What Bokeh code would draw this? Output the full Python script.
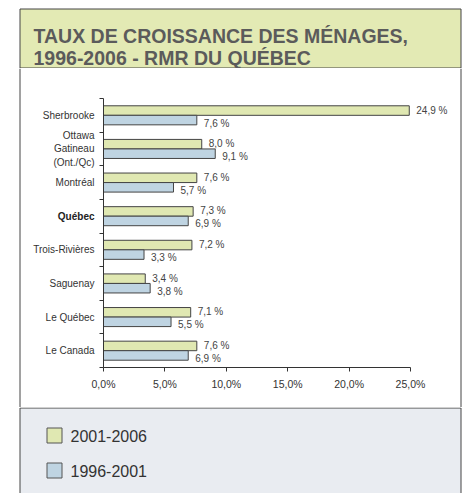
from bokeh.plotting import figure
from bokeh.layouts import column
from bokeh.models import Range1d, FixedTicker, Span, ColumnDataSource
from bokeh.core.properties import value
from bokeh.embed import file_html
from bokeh.resources import INLINE

# ---- data ----
categories = ["Sherbrooke", "Ottawa\nGatineau\n(Ont./Qc)", "Montréal", "Québec",
              "Trois-Rivières", "Saguenay", "Le Québec", "Le Canada"]
highlight = "Québec"
growth_2001_2006 = [24.9, 8.0, 7.6, 7.3, 7.2, 3.4, 7.1, 7.6]
growth_1996_2001 = [7.6, 9.1, 5.7, 6.9, 3.3, 3.8, 5.5, 6.9]
x_ticks = [0, 5, 10, 15, 20, 25]
x_tick_labels = ["0,0%", "5,0%", "10,0%", "15,0%", "20,0%", "25,0%"]
series_names = ["2001-2006", "1996-2001"]
title_lines = ["TAUX DE CROISSANCE DES MÉNAGES,", "1996-2006 - RMR DU QUÉBEC"]

FONT = "Liberation Sans"
GREEN = "#e0e8b2"
BLUE = "#bfd4e2"
BAND = "#e3eab4"
PANEL = "#e9ecf1"
EDGE = "#444444"
W = 463
BOX_L, BOX_R = 19.5, 460.5

def fmt(v):
    return ("%.1f" % v).replace(".", ",") + " %"

def blank(fig):
    fig.axis.visible = False
    fig.grid.visible = False
    fig.outline_line_color = None

# ---- title figure ----
TH = 68
t = figure(width=W, height=TH, x_range=Range1d(0, W), y_range=Range1d(TH, 0),
           toolbar_location=None, output_backend="svg", min_border=0, frame_align=False)
blank(t)
t.quad(left=[BOX_L], right=[BOX_R], top=[8.5], bottom=[67.5],
       fill_color=BAND, line_color=EDGE, line_width=1)
t.text(x=[33, 33], y=[35.5, 57], text=title_lines, text_font=value(FONT),
       text_font_style="bold", text_font_size="19.5px", text_color="#5b5b5b",
       text_baseline="alphabetic", text_align="left")

# ---- chart figure (frame fills the canvas, axes fixed inside) ----
H = 339
n = len(categories)
px_x = 12.28           # pixels per percentage point
x0_px = 103            # canvas x of 0 %
px_y = 33.625          # pixels per category
y0_px = 299            # canvas y of the axis
x_rng = Range1d(-x0_px / px_x, (W - x0_px) / px_x)
y_rng = Range1d(-(H - y0_px) / px_y, y0_px / px_y)

p = figure(width=W, height=H, x_range=x_rng, y_range=y_rng,
           toolbar_location=None, output_backend="svg", min_border=0, frame_align=False)
p.grid.visible = False
p.outline_line_color = None

centers = [n - i - 0.5 for i in range(n)]
off = 0.1415
bh = 0.283
src = ColumnDataSource(dict(
    yg=[c + off for c in centers], yb=[c - off for c in centers],
    g=growth_2001_2006, b=growth_1996_2001,
    gl=[fmt(v) for v in growth_2001_2006], bl=[fmt(v) for v in growth_1996_2001]))
p.hbar(y="yg", left=0, right="g", height=bh, source=src,
       fill_color=GREEN, line_color=EDGE, line_width=1)
p.hbar(y="yb", left=0, right="b", height=bh, source=src,
       fill_color=BLUE, line_color=EDGE, line_width=1)
for xcol, ycol, lcol, yo in (("g", "yg", "gl", -0.5), ("b", "yb", "bl", 3)):
    p.text(x=xcol, y=ycol, text=lcol, source=src, x_offset=7, y_offset=yo,
           text_font=value(FONT), text_font_size="10px", text_color="#444444",
           text_baseline="middle", text_align="left")

# category labels
reg = [(c, lab) for c, lab in zip(centers, categories) if lab != highlight]
hl = [(c, lab) for c, lab in zip(centers, categories) if lab == highlight]
p.text(x=[0] * len(reg), y=[c for c, _ in reg], text=[l for _, l in reg], x_offset=-9,
       text_font=value(FONT), text_font_size="10px", text_color="#333333",
       text_align="right", text_baseline="middle", text_line_height=1.2)
p.text(x=[0] * len(hl), y=[c for c, _ in hl], text=[l for _, l in hl], x_offset=-9,
       text_font=value(FONT), text_font_size="10px", text_font_style="bold",
       text_color="#222222", text_align="right", text_baseline="middle")

xa = p.xaxis[0]
xa.fixed_location = 0
xa.ticker = FixedTicker(ticks=x_ticks)
xa.major_label_overrides = {t_: l for t_, l in zip(x_ticks, x_tick_labels)}
xa.bounds = (0, x_ticks[-1])
xa.minor_tick_line_color = None
xa.major_tick_in = 0
xa.major_tick_out = 4
xa.major_label_standoff = 6
xa.axis_line_color = "#333333"
xa.major_tick_line_color = "#333333"
xa.major_label_text_font = FONT
xa.major_label_text_font_size = "10.5px"
xa.major_label_text_color = "#333333"

ya = p.yaxis[0]
ya.fixed_location = 0
ya.ticker = FixedTicker(ticks=[], minor_ticks=list(range(n + 1)))
ya.bounds = (0, n)
ya.major_tick_line_color = None
ya.minor_tick_in = 0
ya.minor_tick_out = 4
ya.minor_tick_line_color = "#333333"
ya.axis_line_color = "#333333"

# box sides
p.add_layout(Span(location=BOX_L, location_units="canvas", dimension="height",
                  line_color=EDGE, line_width=1))
p.add_layout(Span(location=BOX_R, location_units="canvas", dimension="height",
                  line_color=EDGE, line_width=1))

# ---- legend figure ----
LH = 493 - TH - H
lg = figure(width=W, height=LH, x_range=Range1d(0, W), y_range=Range1d(LH, 0),
            toolbar_location=None, output_backend="svg", min_border=0, frame_align=False)
blank(lg)
lg.quad(left=[BOX_L], right=[BOX_R], top=[0.5], bottom=[LH + 10],
        fill_color=PANEL, line_color=EDGE, line_width=1)
lg.quad(left=[46.5, 46.5], right=[61.5, 61.5], top=[20.5, 55.5], bottom=[35.5, 70.5],
        fill_color=[GREEN, BLUE], line_color="#555555", line_width=1)
lg.text(x=[70, 70], y=[28, 63], text=series_names, text_font=value(FONT),
        text_font_size="16px", text_color="#333333",
        text_baseline="middle", text_align="left")

layout = column(t, p, lg, spacing=0)
open("out.html", "w").write(file_html(layout, INLINE))
